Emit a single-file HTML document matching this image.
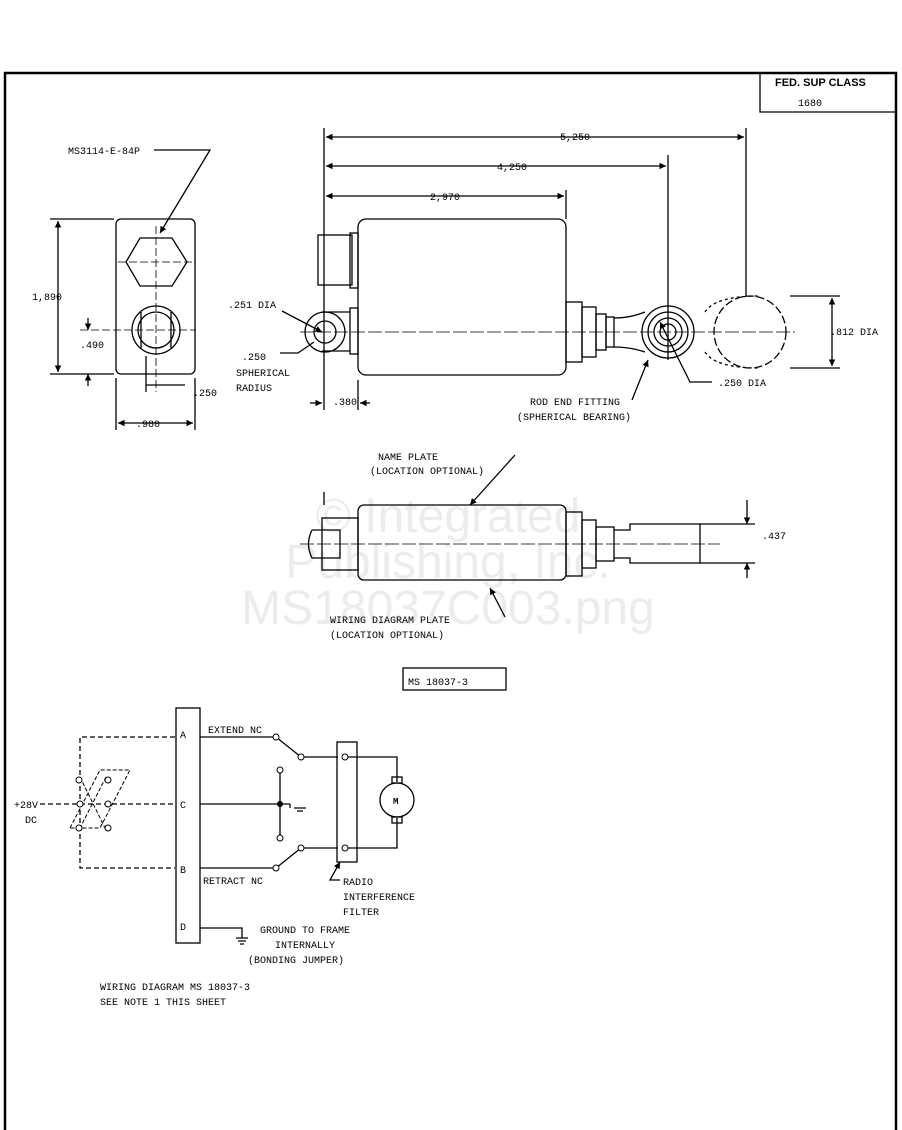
<!DOCTYPE html>
<html><head><meta charset="utf-8"><style>
html,body{margin:0;padding:0;background:#fff;}
svg{display:block;}
text{font-family:"Liberation Mono",monospace;font-size:10px;fill:#000;}
.w{font-family:"Liberation Sans",sans-serif;font-size:48px;fill:#ececec;}
</style></head><body>
<svg width="902" height="1130" viewBox="0 0 902 1130" xmlns="http://www.w3.org/2000/svg">
<defs><marker id="a" viewBox="0 0 10 10" refX="10" refY="5" markerWidth="7" markerHeight="5" orient="auto-start-reverse"><path d="M0 0 L10 5 L0 10 Z" fill="#000"/></marker></defs>
<rect width="902" height="1130" fill="#fff"/>
<!-- watermark -->
<text class="w" x="448" y="532" text-anchor="middle">© Integrated</text>
<text class="w" x="448" y="578" text-anchor="middle">Publishing, Inc.</text>
<text class="w" x="448" y="624" text-anchor="middle">MS18037C003.png</text>
<g stroke="#000" fill="none" stroke-width="1.3">
<!-- frame -->
<path d="M5 1130 V73 H896 V1130" stroke-width="2.5"/>
<path d="M760 73 V112 H896"/>
<!-- end view -->
<rect x="116" y="219" width="79" height="155" rx="5"/>
<polygon points="126,262 140,238 172,238 187,262 172,286 140,286"/>
<circle cx="156" cy="330" r="24"/><circle cx="156" cy="330" r="18"/>
<line x1="141" y1="312" x2="141" y2="348"/><line x1="171" y1="312" x2="171" y2="348"/>
<line x1="156" y1="226" x2="156" y2="392" stroke-dasharray="8,3" stroke-width="0.8"/>
<line x1="118" y1="262" x2="196" y2="262" stroke-dasharray="8,3" stroke-width="0.8"/>
<line x1="80" y1="330" x2="196" y2="330" stroke-dasharray="8,3" stroke-width="0.8"/>
<line x1="50" y1="219" x2="114" y2="219"/><line x1="50" y1="374" x2="114" y2="374"/>
<line x1="58" y1="221" x2="58" y2="372" marker-start="url(#a)" marker-end="url(#a)"/>
<line x1="88" y1="318" x2="88" y2="330" marker-end="url(#a)"/><line x1="88" y1="374" x2="88" y2="386" marker-start="url(#a)"/>
<line x1="146" y1="356" x2="146" y2="392"/><line x1="116" y1="378" x2="116" y2="430"/><line x1="195" y1="378" x2="195" y2="430"/>
<line x1="118" y1="423" x2="193" y2="423" marker-start="url(#a)" marker-end="url(#a)"/>
<line x1="146" y1="385" x2="185" y2="385"/>
<path d="M154 150 H210 L160 233" marker-end="url(#a)"/>
<!-- top view -->
<rect x="358" y="219" width="208" height="156" rx="8"/>
<rect x="318" y="235" width="34" height="50"/><rect x="350" y="233" width="8" height="55"/>
<rect x="350" y="308" width="8" height="46"/>
<path d="M322 312 H350 M322 351 H350"/>
<circle cx="325" cy="332" r="20"/><circle cx="325" cy="332" r="11"/>
<rect x="566" y="302" width="16" height="60"/><rect x="582" y="307" width="14" height="50"/><rect x="596" y="314" width="10" height="36"/><rect x="606" y="317" width="8" height="30"/>
<path d="M614 318 Q630 318 645 312 M614 347 Q630 347 645 352"/>
<circle cx="668" cy="332" r="26"/><circle cx="668" cy="332" r="20"/><circle cx="668" cy="332" r="14"/><circle cx="668" cy="332" r="8"/>
<path d="M705 312 Q715 296 760 296 M705 352 Q715 368 760 368" stroke-dasharray="3,3"/>
<circle cx="750" cy="332" r="36" stroke-dasharray="8,3"/>
<line x1="300" y1="332" x2="795" y2="332" stroke-dasharray="14,3" stroke-width="0.8"/>
<line x1="324" y1="128" x2="324" y2="410"/>
<line x1="566" y1="190" x2="566" y2="219"/><line x1="668" y1="155" x2="668" y2="360"/><line x1="746" y1="128" x2="746" y2="296"/>
<line x1="326" y1="137" x2="744" y2="137" marker-start="url(#a)" marker-end="url(#a)"/><line x1="326" y1="166" x2="666" y2="166" marker-start="url(#a)" marker-end="url(#a)"/><line x1="326" y1="196" x2="564" y2="196" marker-start="url(#a)" marker-end="url(#a)"/>
<line x1="358" y1="380" x2="358" y2="410"/><line x1="310" y1="403" x2="322" y2="403" marker-end="url(#a)"/><line x1="370" y1="403" x2="360" y2="403" marker-end="url(#a)"/>
<line x1="790" y1="296" x2="840" y2="296"/><line x1="790" y1="368" x2="840" y2="368"/><line x1="832" y1="298" x2="832" y2="366" marker-start="url(#a)" marker-end="url(#a)"/>
<path d="M282 311 L322 332" marker-end="url(#a)"/><path d="M280 353 H298 L314 342"/>
<path d="M712 382 H690 L660 322" marker-end="url(#a)"/><path d="M632 400 L648 360" marker-end="url(#a)"/>
<!-- middle view -->
<rect x="358" y="505" width="208" height="75" rx="6"/>
<rect x="322" y="518" width="36" height="52"/><path d="M312 530 H340 V558 H312 Q305 544 312 530"/>
<rect x="566" y="512" width="16" height="64"/><rect x="582" y="520" width="14" height="48"/><rect x="596" y="527" width="18" height="34"/>
<path d="M614 530 H630 V524 H700 V563 H630 V558 H614"/>
<line x1="300" y1="544" x2="720" y2="544" stroke-dasharray="14,3" stroke-width="0.8"/>
<line x1="324" y1="492" x2="324" y2="505"/>
<line x1="700" y1="524" x2="755" y2="524"/><line x1="700" y1="563" x2="755" y2="563"/>
<line x1="747" y1="500" x2="747" y2="524" marker-end="url(#a)"/><line x1="747" y1="578" x2="747" y2="563" marker-end="url(#a)"/>
<path d="M515 455 L470 505" marker-end="url(#a)"/><path d="M505 617 L490 588" marker-end="url(#a)"/>
<rect x="403" y="668" width="103" height="22"/>
<!-- wiring -->
<rect x="176" y="708" width="24" height="235"/>
<path d="M200 737 H276 L301 757 H338 M200 868 H276 L301 848 H338"/>
<path d="M200 804 H280 M280 770 V838 M280 804 H290 M294 808 H306 M297 811 H303 M290 804 V808"/>
<rect x="337" y="742" width="20" height="120"/>
<path d="M345 757 H397 V782 M345 848 H397 V818"/>
<circle cx="397" cy="800" r="17"/><rect x="392" y="777" width="10" height="6"/><rect x="392" y="817" width="10" height="6"/>
<path d="M200 928 H242 V938 M236 938 H248 M238 941 H246 M240 944 H244"/>
<path d="M175 737 H80 V868 H175 M40 804 H175" stroke-dasharray="5,3"/>
<path d="M80 777 L105 828 M106 777 L80 828 M70 828 L100 770 H130 L100 828 Z" stroke-dasharray="4,2" stroke-width="1"/>
<path d="M340 880 H330 L340 862" marker-end="url(#a)"/>
</g>
<g fill="#fff" stroke="#000" stroke-width="1">
<circle cx="276" cy="737" r="3"/><circle cx="301" cy="757" r="3"/><circle cx="280" cy="770" r="3"/><circle cx="280" cy="838" r="3"/>
<circle cx="276" cy="868" r="3"/><circle cx="301" cy="848" r="3"/><circle cx="345" cy="757" r="3"/><circle cx="345" cy="848" r="3"/>
<circle cx="79" cy="780" r="3"/><circle cx="108" cy="780" r="3"/><circle cx="80" cy="804" r="3"/><circle cx="108" cy="804" r="3"/><circle cx="79" cy="828" r="3"/><circle cx="108" cy="828" r="3"/>
</g>
<circle cx="280" cy="804" r="3"/>
<!-- labels -->
<text x="775" y="86" style="font-family:'Liberation Sans',sans-serif;font-weight:bold;font-size:11px">FED. SUP CLASS</text>
<text x="798" y="106">1680</text>
<text x="68" y="154">MS3114-E-84P</text>
<text x="32" y="300">1,890</text><text x="80" y="348">.490</text>
<text x="193" y="396">.250</text><text x="136" y="427">.980</text>
<text x="560" y="140">5,250</text><text x="497" y="170">4,250</text><text x="430" y="200">2,970</text>
<text x="228" y="308">.251 DIA</text><text x="242" y="360">.250</text><text x="236" y="376">SPHERICAL</text><text x="236" y="391">RADIUS</text>
<text x="333" y="405">.380</text>
<text x="530" y="405">ROD END FITTING</text><text x="517" y="420">(SPHERICAL BEARING)</text>
<text x="718" y="386">.250 DIA</text><text x="830" y="335">.812 DIA</text>
<text x="378" y="460">NAME PLATE</text><text x="370" y="474">(LOCATION OPTIONAL)</text>
<text x="330" y="623">WIRING DIAGRAM PLATE</text><text x="330" y="638">(LOCATION OPTIONAL)</text>
<text x="762" y="539">.437</text>
<text x="408" y="685">MS 18037-3</text>
<text x="180" y="738">A</text><text x="180" y="808">C</text><text x="180" y="873">B</text><text x="180" y="930">D</text>
<text x="208" y="733">EXTEND NC</text><text x="203" y="884">RETRACT NC</text>
<text x="393" y="804" style="font-size:9px;font-weight:bold">M</text>
<text x="14" y="808">+28V</text><text x="25" y="823">DC</text>
<text x="343" y="885">RADIO</text><text x="343" y="900">INTERFERENCE</text><text x="343" y="915">FILTER</text>
<text x="260" y="933">GROUND TO FRAME</text><text x="275" y="948">INTERNALLY</text><text x="248" y="963">(BONDING JUMPER)</text>
<text x="100" y="990">WIRING DIAGRAM MS 18037-3</text><text x="100" y="1005">SEE NOTE 1 THIS SHEET</text>
</svg>
</body></html>
